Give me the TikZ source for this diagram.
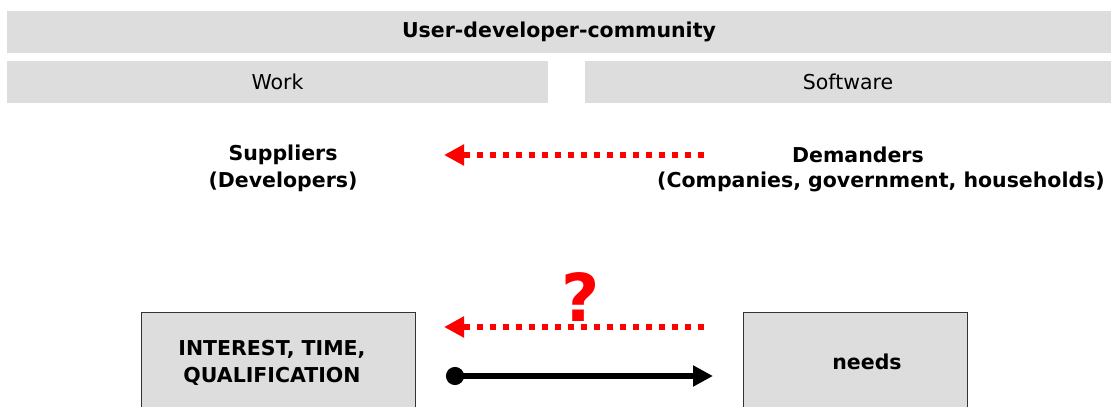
\documentclass[tikz,border=0pt]{standalone}
\usepackage{fontspec}
\setmainfont{DejaVu Sans}
\usetikzlibrary{arrows.meta}
\definecolor{boxgray}{HTML}{DDDDDD}
\definecolor{dotred}{HTML}{FF0000}

\begin{document}
\begin{tikzpicture}[x=1pt,y=-1pt,
  bar/.style={fill=boxgray,inner sep=0pt,font=\fontsize{20.5}{27}\selectfont},
  lowbox/.style={draw=black!80,line width=1pt,fill=boxgray,inner sep=0pt},
  label/.style={align=center,font=\fontsize{20.5}{27}\selectfont\bfseries},
  demand/.style={dotred,line width=6pt,dash pattern=on 6pt off 7pt,
    -{Triangle[length=20pt,width=20pt,sep=0pt]}},
  supply/.style={line width=6pt,{Circle[length=18pt]}-{Triangle[length=20pt,width=20pt]}}]
\useasboundingbox (0,0) rectangle (1112,407);
% header bars
\node[bar,minimum width=1104,minimum height=42,font=\fontsize{20.5}{27}\selectfont\bfseries]
  (community) at (559,32) {User-developer-community};
\node[bar,minimum width=541,minimum height=42] (work) at (277.5,82) {Work};
\node[bar,minimum width=526,minimum height=42] (software) at (848,82) {Software};
% market sides
\node[label] (suppliers) at (283,168) {Suppliers\\(Developers)};
\node[label] (demanders) at (858,155) {Demanders};
\node[label] (demanderlist) at (881,182) {(Companies, government, households)};
\coordinate (top from) at (704,155);
\coordinate (top to) at (444,155);
\draw[demand] (top from) -- (top to);
% lower boxes
\node[lowbox,minimum width=274,minimum height=190,anchor=north] (interest) at (278,312) {};
\node[label] (interesttext) at (272,363) {INTEREST, TIME,\\QUALIFICATION};
\node[lowbox,minimum width=224,minimum height=190,anchor=north] (needs) at (855,312) {};
\node[label] (needstext) at (867,362) {needs};
\node[text=dotred,font=\fontsize{66}{66}\selectfont\bfseries] (question) at (581,297) {?};
\coordinate (low from) at (704,327);
\coordinate (low to) at (444,327);
\draw[demand] (low from) -- (low to);
\coordinate (offer from) at (446,376);
\coordinate (offer to) at (713,376);
\draw[supply] (offer from) -- (offer to);
\end{tikzpicture}
\end{document}
